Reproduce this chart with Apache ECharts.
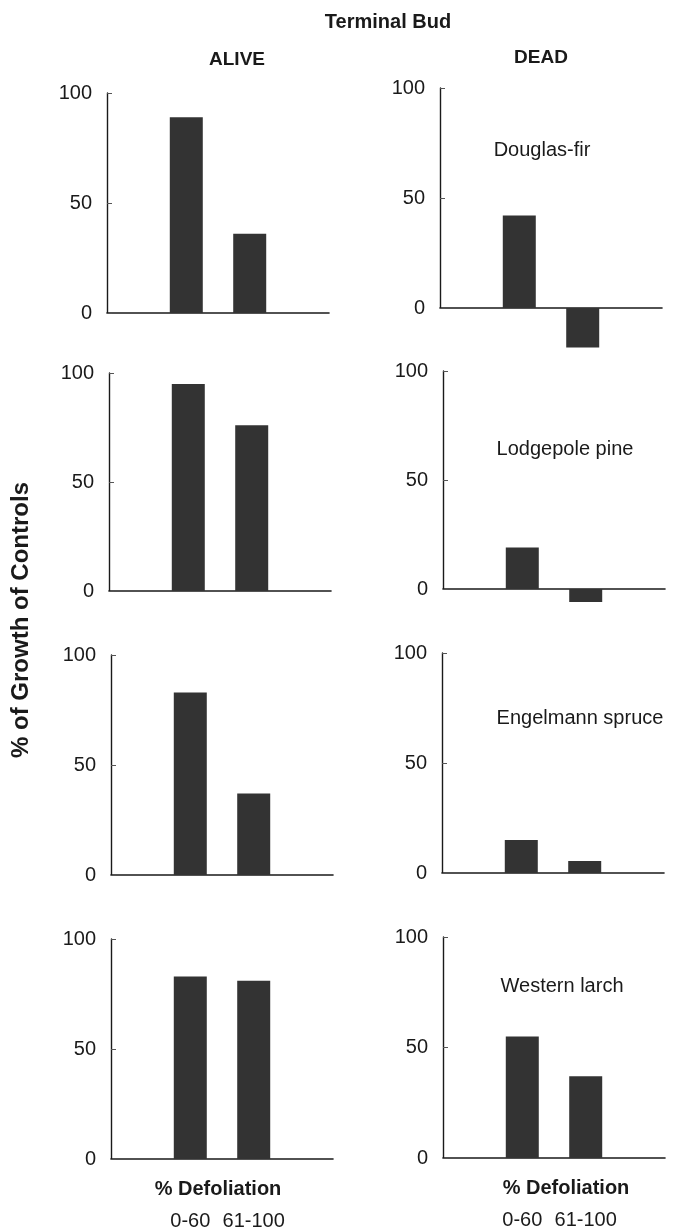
<!DOCTYPE html>
<html>
<head>
<meta charset="utf-8">
<script src="https://cdn.jsdelivr.net/npm/echarts@6/dist/echarts.min.js"></script>
<style>
html,body{margin:0;padding:0;background:#fff;}
#chart{width:673px;height:1230px;}
</style>
</head>
<body>
<div id="chart"></div>
<script>
// ---- data ----
const species = ['Douglas-fir', 'Lodgepole pine', 'Engelmann spruce', 'Western larch'];
const defoliation = ['0-60', '61-100'];
const alive_0_60 = [89, 95, 83, 83];
const alive_61_100 = [36, 76, 37, 81];
const dead_0_60 = [42, 19, 15, 55];
const dead_61_100 = [-18, -6, 5.5, 37];
const yTicks = [0, 50, 100];
const columnTitles = ['ALIVE', 'DEAD'];
const mainTitle = 'Terminal Bud';
const yTitle = '% of Growth of Controls';
const xTitle = '% Defoliation';

// ---- layout ----
const FONT = '"Liberation Sans", Arial, Helvetica, sans-serif';
const W = 222;
const gridPos = [
  [107, 93, 220], [440, 88, 220],
  [109, 373, 218], [443, 371, 218],
  [111, 655, 220], [442, 653, 220],
  [111, 939, 220], [443, 937, 221]
];
// 7 half-width slots; the two defoliation classes sit on slots 2 and 4
const slots = ['', '', defoliation[0], '', defoliation[1], '', ''];
const slotIndex = [2, 4];

const grids = [], xAxes = [], yAxes = [], series = [];
for (let r = 0; r < 4; r++) {
  for (let c = 0; c < 2; c++) {
    const i = r * 2 + c;
    const [l, t, h] = gridPos[i];
    grids.push({left: l, top: t, width: W, height: h, containLabel: false, outerBoundsMode: 'none'});
    const bottom = r === 3;
    xAxes.push({
      type: 'category', gridIndex: i, data: slots, boundaryGap: true,
      axisLine: {show: true, onZero: true, lineStyle: {color: '#1a1a1a', width: 1.6}},
      axisTick: {show: false},
      axisLabel: {show: bottom, interval: 0, margin: 52, fontSize: 20, color: '#1a1a1a', fontFamily: FONT},
      name: bottom ? xTitle : '', nameLocation: 'middle', nameGap: 20, nameMoveOverlap: false,
      nameTextStyle: {fontSize: 20, fontWeight: 'bold', color: '#1a1a1a', fontFamily: FONT, verticalAlign: 'top',
        padding: c === 0 ? [0, 8, 0, 0] : [0, 0, 0, 24]}
    });
    yAxes.push({
      type: 'value', gridIndex: i, min: yTicks[0], max: yTicks[yTicks.length - 1], interval: 50,
      axisLine: {show: true, lineStyle: {color: '#1a1a1a', width: 1.4}},
      axisTick: {show: true, inside: true, length: 5, lineStyle: {color: '#555', width: 1}},
      splitLine: {show: false},
      axisLabel: {margin: 15, fontSize: 20, color: '#1a1a1a', fontFamily: FONT}
    });
    const v0 = c === 0 ? alive_0_60[r] : dead_0_60[r];
    const v1 = c === 0 ? alive_61_100[r] : dead_61_100[r];
    const data = slots.map(() => null);
    data[slotIndex[0]] = v0;
    data[slotIndex[1]] = v1;
    series.push({
      type: 'bar', xAxisIndex: i, yAxisIndex: i, data: data,
      barWidth: 33, clip: false, silent: true,
      itemStyle: {color: '#333333'}
    });
  }
}

function txt(text, x, y, size, bold, rot) {
  return {
    type: 'text', x: x, y: y, rotation: rot || 0,
    style: {text: text, font: (bold ? 'bold ' : '') + size + 'px ' + FONT,
      fill: '#1a1a1a', textAlign: 'center', textVerticalAlign: 'middle'}
  };
}
const speciesPos = [[542, 150], [565, 449], [580, 718], [562, 986]];
const graphics = [
  txt(mainTitle, 388, 22, 20, true),
  txt(columnTitles[0], 237, 60, 19, true),
  txt(columnTitles[1], 541, 58, 19, true),
  txt(yTitle, 21, 620, 24, true, Math.PI / 2)
];
species.forEach((s, k) => graphics.push(txt(s, speciesPos[k][0], speciesPos[k][1], 20, false)));

const chart = echarts.init(document.getElementById('chart'), null, {renderer: 'canvas'});
chart.setOption({
  animation: false,
  backgroundColor: '#ffffff',
  grid: grids, xAxis: xAxes, yAxis: yAxes, series: series,
  graphic: {elements: graphics}
});
</script>
</body>
</html>
